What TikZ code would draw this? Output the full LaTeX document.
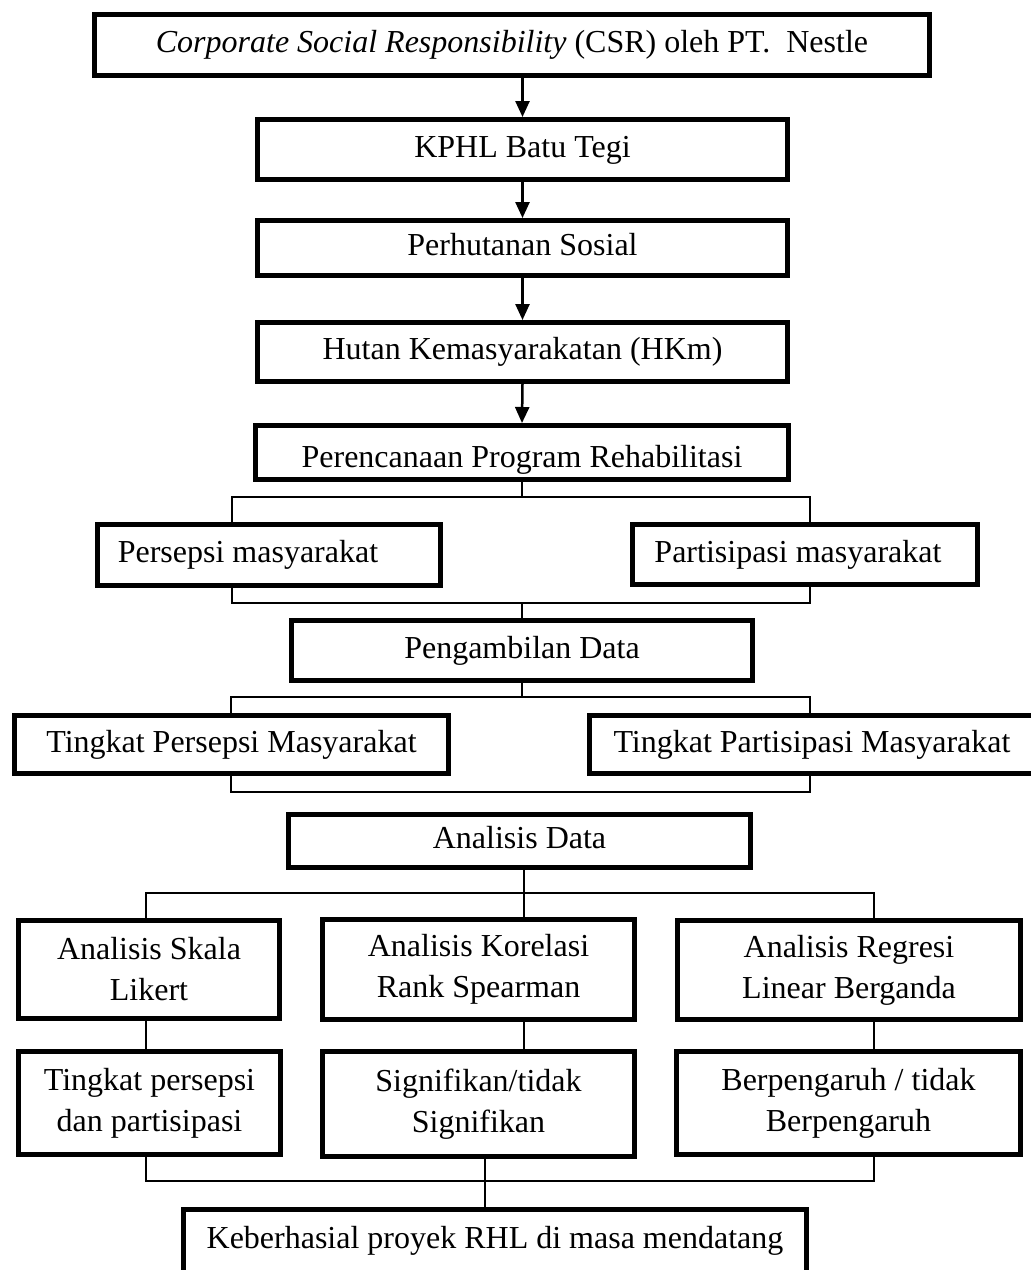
\documentclass[tikz,border=0pt]{standalone}
\usepackage{fontspec}
\setmainfont{Liberation Serif}
\usetikzlibrary{arrows.meta}
\begin{document}
\begin{tikzpicture}[x=1pt,y=-1pt,
  box/.style={draw, line width=5pt, inner sep=0pt, font=\fontsize{32}{41}\selectfont, align=center},
  one/.style={text height=22pt, text depth=7pt},
  low/.style={text height=30pt, text depth=1pt},
  conn/.style={line width=1.8pt},
  arr/.style={line width=2.5pt, -{Triangle[length=16pt,width=14pt]}}]
\useasboundingbox (0,0) rectangle (1031,1270);
% main chain
\node[box, one, minimum width=835pt, minimum height=61pt] (b1) at (512,45) {\textit{Corporate Social Responsibility} (CSR) oleh PT.\ \ Nestle};
\node[box, one, minimum width=530pt, minimum height=60pt] (b2) at (522.5,149.5) {KPHL Batu Tegi};
\node[box, one, minimum width=530pt, minimum height=55pt] (b3) at (522.5,248) {Perhutanan Sosial};
\node[box, one, minimum width=530pt, minimum height=59pt] (b4) at (522.5,352) {Hutan Kemasyarakatan (HKm)};
\node[box, low, minimum width=533pt, minimum height=54pt] (b5) at (522,452.5) {Perencanaan Program Rehabilitasi};
% persepsi / partisipasi
\node[box, one, minimum width=343pt, minimum height=61pt] (b6) at (269,555) {Persepsi masyarakat\hspace*{42pt}};
\node[box, one, minimum width=345pt, minimum height=60pt] (b7) at (805,554.5) {Partisipasi masyarakat\hspace*{14pt}};
\node[box, one, minimum width=461pt, minimum height=60pt] (b8) at (522,650.5) {Pengambilan Data};
\node[box, one, minimum width=434pt, minimum height=58pt] (b9) at (231.5,744.5) {Tingkat Persepsi Masyarakat};
\node[box, one, minimum width=445pt, minimum height=58pt] (b10) at (812,744.5) {Tingkat Partisipasi Masyarakat};
\node[box, one, minimum width=462pt, minimum height=53pt] (b11) at (519.5,841) {Analisis Data};
% analysis row
\node[box, minimum width=261pt, minimum height=98pt] (b12) at (149,969.5) {Analisis Skala\\Likert};
\node[box, minimum width=312pt, minimum height=100pt] (b13) at (478.5,969.5) {Analisis Korelasi\\Rank Spearman};
\node[box, minimum width=343pt, minimum height=99pt] (b14) at (849,970) {Analisis Regresi\\Linear Berganda};
% result row
\node[box, minimum width=262pt, minimum height=103pt] (b15) at (149.5,1103) {Tingkat persepsi\\dan partisipasi};
\node[box, minimum width=312pt, minimum height=105pt] (b16) at (478.5,1104) {Signifikan/tidak\\Signifikan};
\node[box, minimum width=344pt, minimum height=103pt] (b17) at (848.5,1103) {Berpengaruh / tidak\\Berpengaruh};
\node[box, one, minimum width=623pt, minimum height=63pt] (b18) at (495,1241) {Keberhasial proyek RHL di masa mendatang};
% arrows
\draw[arr] (b1.south -| b2.north) -- (b2.north);
\draw[arr] (b2.south) -- (b3.north);
\draw[arr] (b3.south) -- (b4.north);
\draw[arr] (b4.south) -- (b5.north);
% junction coordinates
\coordinate (j1l) at (232,497); \coordinate (j1r) at (810,497);
\coordinate (j2l) at (232,603); \coordinate (j2r) at (810,603);
\coordinate (j3l) at (231,697); \coordinate (j3r) at (810,697);
\coordinate (j4l) at (231,792); \coordinate (j4r) at (810,792);
\coordinate (j5l) at (146,893); \coordinate (j5m) at (524,893); \coordinate (j5r) at (874,893);
\coordinate (j6l) at (146,1181); \coordinate (j6m) at (485,1181); \coordinate (j6r) at (874,1181);
% connectors
\draw[conn] (b5.south) -- (b5.south |- j1l);
\draw[conn] (b6.north -| j1l) -- (j1l) -- (j1r) -- (b7.north -| j1r);
\draw[conn] (b6.south -| j2l) -- (j2l) -- (j2r) -- (b7.south -| j2r);
\draw[conn] (b8.north |- j2l) -- (b8.north);
\draw[conn] (b8.south) -- (b8.south |- j3l);
\draw[conn] (b9.north -| j3l) -- (j3l) -- (j3r) -- (b10.north -| j3r);
\draw[conn] (b9.south -| j4l) -- (j4l) -- (j4r) -- (b10.south -| j4r);
\draw[conn] (b11.south -| j5m) -- (j5m);
\draw[conn] (b12.north -| j5l) -- (j5l) -- (j5r) -- (b14.north -| j5r);
\draw[conn] (j5m) -- (b13.north -| j5m);
\draw[conn] (b12.south -| j5l) -- (b15.north -| j5l);
\draw[conn] (b13.south -| j5m) -- (b16.north -| j5m);
\draw[conn] (b14.south -| j5r) -- (b17.north -| j5r);
\draw[conn] (b15.south -| j6l) -- (j6l) -- (j6r) -- (b17.south -| j6r);
\draw[conn] (b16.south -| j6m) -- (b18.north -| j6m);
\end{tikzpicture}
\end{document}
